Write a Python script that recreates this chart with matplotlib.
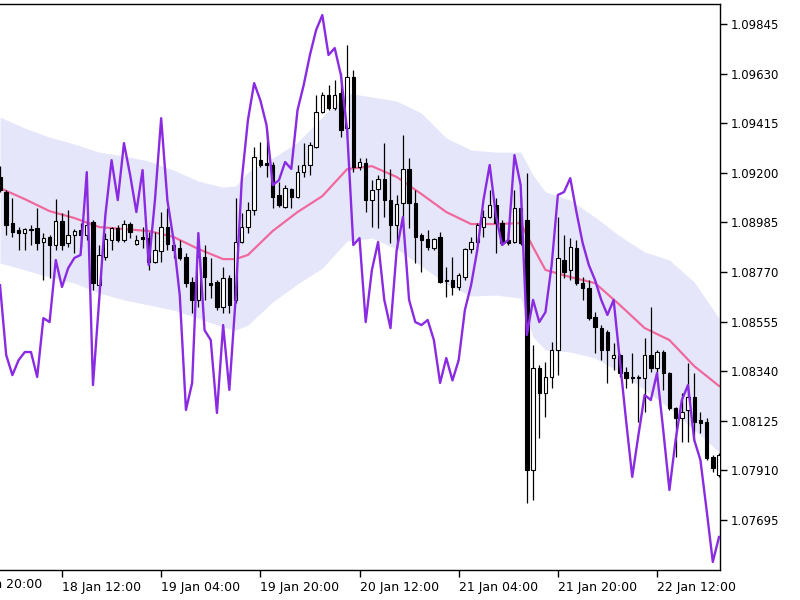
import numpy as np
import matplotlib
matplotlib.use("Agg")
import matplotlib.pyplot as plt
import matplotlib.transforms as mtransforms

# hourly bars, index 0 = 18 Jan 02:00
opens = [1.09182, 1.09117, 1.08982, 1.08952, 1.08939, 1.08956, 1.08961, 1.08900, 1.08922, 1.08887,
         1.08991, 1.08896, 1.08930, 1.08952, 1.08930, 1.08987, 1.08713, 1.08835, 1.08909, 1.08961,
         1.08909, 1.08978, 1.08891, 1.08922, 1.08917, 1.08813, 1.08861, 1.08965, 1.08887, 1.08874,
         1.08835, 1.08727, 1.08649, 1.08835, 1.08722, 1.08727, 1.08618, 1.08744, 1.08649, 1.08900,
         1.08965, 1.09039, 1.09255, 1.09242, 1.09234, 1.09104, 1.09052, 1.09130, 1.09095, 1.09203,
         1.09234, 1.09312, 1.09464, 1.09537, 1.09481, 1.09546, 1.09394, 1.09615, 1.09225, 1.09242,
         1.09082, 1.09130, 1.09173, 1.09082, 1.08974, 1.09069, 1.09217, 1.09069, 1.08930, 1.08913,
         1.08874, 1.08922, 1.08735, 1.08735, 1.08705, 1.08748, 1.08870, 1.08900, 1.08965, 1.09008,
         1.09060, 1.08982, 1.08909, 1.08900, 1.09047, 1.08995, 1.07912, 1.08354, 1.08245, 1.08315,
         1.08432, 1.08822, 1.08779, 1.08874, 1.08722, 1.08700, 1.08575, 1.08527, 1.08510, 1.08397,
         1.08410, 1.08336, 1.08315, 1.08310, 1.08310, 1.08410, 1.08354, 1.08423, 1.08332, 1.08180,
         1.08137, 1.08172, 1.08228, 1.08128, 1.08120, 1.07968, 1.07891]
highs = [1.09229, 1.09125, 1.09091, 1.08965, 1.08961, 1.08974, 1.09047, 1.08939, 1.08930, 1.09086,
         1.09026, 1.09039, 1.08956, 1.08982, 1.09004, 1.08995, 1.08887, 1.08939, 1.08965, 1.08974,
         1.08995, 1.08987, 1.08930, 1.08965, 1.08943, 1.08943, 1.09030, 1.09047, 1.08900, 1.08909,
         1.08852, 1.08748, 1.08852, 1.08887, 1.08831, 1.08735, 1.08792, 1.08757, 1.09091, 1.09026,
         1.09073, 1.09312, 1.09333, 1.09385, 1.09247, 1.09160, 1.09147, 1.09134, 1.09234, 1.09329,
         1.09333, 1.09537, 1.09550, 1.09581, 1.09602, 1.09633, 1.09754, 1.09646, 1.09264, 1.09264,
         1.09168, 1.09190, 1.09329, 1.09217, 1.09104, 1.09364, 1.09264, 1.09125, 1.08939, 1.08952,
         1.08917, 1.08943, 1.08792, 1.08835, 1.08766, 1.08874, 1.08922, 1.08982, 1.09039, 1.09125,
         1.09091, 1.08995, 1.08943, 1.09125, 1.09095, 1.09199, 1.08453, 1.08367, 1.08380, 1.08466,
         1.09008, 1.08930, 1.08917, 1.08909, 1.08748, 1.08735, 1.08596, 1.08540, 1.08518, 1.08462,
         1.08414, 1.08358, 1.08419, 1.08323, 1.08484, 1.08618, 1.08432, 1.08432, 1.08336, 1.08185,
         1.08245, 1.08375, 1.08332, 1.08163, 1.08137, 1.07977, 1.07985]
lows = [1.09117, 1.08930, 1.08922, 1.08865, 1.08865, 1.08887, 1.08865, 1.08735, 1.08744, 1.08865,
        1.08865, 1.08878, 1.08852, 1.08878, 1.08909, 1.08692, 1.08692, 1.08822, 1.08865, 1.08900,
        1.08900, 1.08917, 1.08887, 1.08874, 1.08779, 1.08809, 1.08813, 1.08865, 1.08831, 1.08822,
        1.08705, 1.08592, 1.08618, 1.08649, 1.08657, 1.08605, 1.08592, 1.08592, 1.08636, 1.08896,
        1.08939, 1.09017, 1.09225, 1.09182, 1.09047, 1.09052, 1.09047, 1.09047, 1.09091, 1.09182,
        1.09190, 1.09307, 1.09459, 1.09472, 1.09472, 1.09355, 1.09355, 1.09203, 1.09212, 1.09030,
        1.08965, 1.08961, 1.09008, 1.08896, 1.08874, 1.08965, 1.08961, 1.08809, 1.08770, 1.08865,
        1.08865, 1.08722, 1.08662, 1.08670, 1.08692, 1.08735, 1.08852, 1.08896, 1.08922, 1.09004,
        1.08852, 1.08887, 1.08887, 1.08896, 1.08887, 1.07769, 1.07782, 1.08050, 1.08141, 1.08267,
        1.08323, 1.08744, 1.08735, 1.08713, 1.08649, 1.08562, 1.08419, 1.08388, 1.08289, 1.08345,
        1.08315, 1.08267, 1.08289, 1.08120, 1.08163, 1.08336, 1.08336, 1.08259, 1.08172, 1.07968,
        1.08033, 1.08033, 1.08033, 1.08072, 1.07955, 1.07903, 1.07882]
closes = [1.09125, 1.08974, 1.08943, 1.08939, 1.08956, 1.08952, 1.08896, 1.08917, 1.08887, 1.08991,
          1.08887, 1.08930, 1.08948, 1.08930, 1.08974, 1.08722, 1.08844, 1.08913, 1.08961, 1.08909,
          1.08978, 1.08943, 1.08909, 1.08913, 1.08813, 1.08865, 1.08965, 1.08891, 1.08865, 1.08831,
          1.08722, 1.08649, 1.08835, 1.08748, 1.08713, 1.08618, 1.08744, 1.08627, 1.08900, 1.08965,
          1.09039, 1.09268, 1.09234, 1.09234, 1.09095, 1.09060, 1.09134, 1.09095, 1.09203, 1.09234,
          1.09320, 1.09464, 1.09537, 1.09481, 1.09537, 1.09385, 1.09615, 1.09225, 1.09247, 1.09082,
          1.09125, 1.09173, 1.09082, 1.08974, 1.09065, 1.09217, 1.09069, 1.08922, 1.08909, 1.08878,
          1.08913, 1.08727, 1.08731, 1.08705, 1.08757, 1.08870, 1.08900, 1.08974, 1.09008, 1.09060,
          1.08982, 1.08896, 1.08896, 1.09047, 1.08896, 1.07912, 1.08354, 1.08245, 1.08315, 1.08432,
          1.08831, 1.08770, 1.08878, 1.08722, 1.08700, 1.08570, 1.08531, 1.08432, 1.08432, 1.08410,
          1.08332, 1.08310, 1.08310, 1.08315, 1.08410, 1.08354, 1.08423, 1.08332, 1.08180, 1.08137,
          1.08163, 1.08228, 1.08120, 1.08115, 1.07964, 1.07921, 1.07977]

# purple indicator line, one value per bar
purple = [1.08713, 1.08410, 1.08323, 1.08388, 1.08423, 1.08423, 1.08315, 1.08570, 1.08553, 1.08822,
          1.08705, 1.08787, 1.08831, 1.08844, 1.09203, 1.08280, 1.08649, 1.09017, 1.09255, 1.09082,
          1.09329, 1.09190, 1.09030, 1.09212, 1.08800, 1.09082, 1.09437, 1.09082, 1.08909, 1.08670,
          1.08172, 1.08289, 1.08939, 1.08518, 1.08475, 1.08159, 1.08540, 1.08259, 1.08649, 1.09168,
          1.09429, 1.09589, 1.09515, 1.09407, 1.09147, 1.09168, 1.09247, 1.09217, 1.09472, 1.09581,
          1.09711, 1.09819, 1.09884, 1.09711, 1.09741, 1.09624, 1.09385, 1.08887, 1.08917, 1.08553,
          1.08779, 1.08900, 1.08649, 1.08527, 1.08865, 1.09008, 1.08649, 1.08553, 1.08540, 1.08562,
          1.08475, 1.08289, 1.08397, 1.08300, 1.08388, 1.08605, 1.08713, 1.08865, 1.09082, 1.09234,
          1.09017, 1.08887, 1.08909, 1.09277, 1.09147, 1.08497, 1.08649, 1.08553, 1.08596, 1.08800,
          1.09104, 1.09117, 1.09177, 1.09030, 1.08896, 1.08800, 1.08735, 1.08649, 1.08584, 1.08649,
          1.08388, 1.08128, 1.07882, 1.08063, 1.08237, 1.08215, 1.08332, 1.08085, 1.07825, 1.08042,
          1.08215, 1.08280, 1.08042, 1.07955, 1.07738, 1.07513, 1.07621]

# moving average and envelope, read at selected bars
band_bars = [0, 4, 8, 12, 16, 20, 24, 28, 32, 36, 38, 40, 44, 48, 52, 56, 60, 64, 68, 72,
             76, 80, 84, 86, 88, 92, 96, 100, 104, 108, 112, 116]
ma = [1.09134, 1.09086, 1.09034, 1.09004, 1.08965, 1.08956, 1.08948, 1.08922, 1.08870, 1.08826,
      1.08826, 1.08844, 1.08948, 1.09030, 1.09099, 1.09216, 1.09229, 1.09182, 1.09108, 1.09030,
      1.08978, 1.08978, 1.08982, 1.08878, 1.08779, 1.08748, 1.08722, 1.08627, 1.08527, 1.08475,
      1.08362, 1.08276]
upper = [1.09442, 1.09394, 1.09355, 1.09325, 1.09290, 1.09273, 1.09251, 1.09212, 1.09164, 1.09138,
         1.09143, 1.09203, 1.09264, 1.09333, 1.09442, 1.09546, 1.09529, 1.09511, 1.09459, 1.09351,
         1.09299, 1.09290, 1.09290, 1.09190, 1.09117, 1.09082, 1.09008, 1.08926, 1.08857, 1.08822,
         1.08727, 1.08570]
lower = [1.08809, 1.08779, 1.08748, 1.08722, 1.08679, 1.08649, 1.08627, 1.08605, 1.08570, 1.08531,
         1.08518, 1.08540, 1.08640, 1.08718, 1.08787, 1.08904, 1.08917, 1.08870, 1.08796, 1.08718,
         1.08666, 1.08670, 1.08657, 1.08488, 1.08432, 1.08423, 1.08397, 1.08336, 1.08259, 1.08180,
         1.08085, 1.07990]

price_ticks = [1.07695, 1.07910, 1.08125, 1.08340, 1.08555, 1.08770, 1.08985, 1.09200, 1.09415, 1.09630, 1.09845]
time_ticks = [-6, 10, 26, 42, 58, 74, 90, 106]
time_labels = ["17 Jan 20:00", "18 Jan 12:00", "19 Jan 04:00", "19 Jan 20:00",
               "20 Jan 12:00", "21 Jan 04:00", "21 Jan 20:00", "22 Jan 12:00"]

o = np.array(opens)
c = np.array(closes)
h = np.array(highs)
l = np.array(lows)
x = np.arange(len(o))

fig = plt.figure(figsize=(8, 6), dpi=100)
ax = fig.add_axes([0.0, 0.05, 0.9, 0.9433])

ax.fill_between(band_bars, lower, upper, color="#E6E6FA", linewidth=0, zorder=1)
ax.plot(band_bars, ma, color="#F0699C", linewidth=1.6, zorder=2)

ax.vlines(x, l, h, color="black", linewidth=0.9, zorder=3)
bull = c >= o
body_bottom = np.minimum(o, c)
body_h = np.maximum(np.abs(c - o), 0.00003)
ax.bar(x, body_h, bottom=body_bottom, width=0.55,
       color=np.where(bull, "white", "black"), edgecolor="black", linewidth=0.8, zorder=4)

ax.plot(x, purple, color="#8A2BE2", linewidth=1.7, zorder=5)

ax.set_xlim(0, 116.16)
ax.set_ylim(1.07478, 1.09932)

ax.yaxis.tick_right()
ax.set_yticks(price_ticks)
ax.set_yticklabels(["%.5f" % p for p in price_ticks])
ax.tick_params(axis="y", direction="out", length=5, width=1, pad=3, labelsize=8.5)

ax.set_xticks(time_ticks[1:])
ax.set_xticklabels(time_labels[1:], ha="left")
ax.tick_params(axis="x", direction="out", length=5, width=1, pad=3, labelsize=9)
# first label sits left of the visible range, so it is cut at the edge as in the chart
trans = mtransforms.blended_transform_factory(ax.transData, ax.transAxes)
ax.text(time_ticks[0], -0.0145, time_labels[0], transform=trans, ha="left", va="top",
        fontsize=9, clip_on=False)

ax.spines["left"].set_visible(False)
for s in ["top", "right", "bottom"]:
    ax.spines[s].set_linewidth(1)

plt.savefig("out.png", dpi=100)
